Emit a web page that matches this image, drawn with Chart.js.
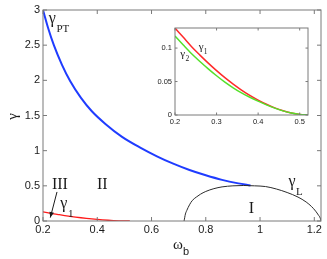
<!DOCTYPE html>
<html lang="en">
<head>
<meta charset="UTF-8">
<title>Phase diagram</title>
<script src="https://cdn.jsdelivr.net/npm/chart.js"></script>
<style>
    body { margin: 0; background: #fff; }
    #main { position: absolute; left: 0; top: 0; width: 327px; height: 259px; }
    #inset { position: absolute; left: 140px; top: 20px; width: 175px; height: 112px; }
</style>
</head>
<body>
<div id="main"><canvas id="mainChart"></canvas></div>
<div id="inset"><canvas id="insetChart"></canvas></div>
<script>
// gamma_PT boundary (blue)
const omegaPT = [0.2, 0.22, 0.24, 0.27, 0.3, 0.34, 0.38, 0.43, 0.49, 0.56, 0.62, 0.68, 0.74, 0.8, 0.86, 0.92, 0.965];
const gammaPT = [3.0, 2.73, 2.5, 2.22, 1.99, 1.75, 1.56, 1.38, 1.2, 1.04, 0.92, 0.815, 0.725, 0.65, 0.585, 0.535, 0.505];

// gamma_L arc (black)
const omegaL = [0.72, 0.725, 0.73, 0.74, 0.75, 0.765, 0.78, 0.8, 0.83, 0.86, 0.9, 0.94, 0.98, 1.02, 1.06, 1.1, 1.14, 1.17, 1.19, 1.205, 1.215, 1.222, 1.2245];
const gammaL = [0, 0.1, 0.15, 0.23, 0.29, 0.34, 0.38, 0.42, 0.46, 0.485, 0.5, 0.505, 0.5, 0.49, 0.455, 0.405, 0.34, 0.27, 0.205, 0.14, 0.085, 0.04, 0];

// gamma_1 (red) and gamma_2 (green)
const omega12 = [0.2, 0.22, 0.24, 0.26, 0.28, 0.3, 0.32, 0.34, 0.36, 0.38, 0.4, 0.42, 0.44, 0.46, 0.48, 0.5, 0.52];
const gamma1 = [0.13, 0.116, 0.102, 0.0895, 0.0775, 0.0663, 0.0558, 0.0462, 0.0373, 0.0293, 0.0222, 0.016, 0.0107, 0.0064, 0.0031, 0.0009, 0];
const gamma2 = [0.118, 0.1045, 0.0915, 0.08, 0.069, 0.0587, 0.0492, 0.0407, 0.033, 0.0265, 0.0207, 0.0152, 0.0103, 0.0062, 0.003, 0.0009, 0];

const xTicksMain = [0.2, 0.4, 0.6, 0.8, 1, 1.2];
const yTicksMain = [0, 0.5, 1, 1.5, 2, 2.5, 3];
const xTicksInset = [0.2, 0.3, 0.4, 0.5];
const yTicksInset = [0, 0.05, 0.1];

const pts = (xs, ys) => xs.map((x, i) => ({ x: x, y: ys[i] }));

// text labels, placed in data coordinates (left edge, baseline)
const mainLabels = [
    { t: 'γ', s: 'PT', x: 0.2215, y: 2.81 },
    { t: 'III', x: 0.233, y: 0.461 },
    { t: 'II', x: 0.399, y: 0.461 },
    { t: 'γ', s: '1', x: 0.2638, y: 0.181 },
    { t: 'γ', s: 'L', x: 1.105, y: 0.494 },
    { t: 'I', x: 0.958, y: 0.114 }
];
const insetLabels = [
    { t: 'γ', s: '1', x: 0.257, y: 0.097 },
    { t: 'γ', s: '2', x: 0.2128, y: 0.0865 }
];

const frame = {
    id: 'frame',
    beforeDraw(chart, args, opts) {
        if (!opts.fill) return;
        const a = chart.chartArea;
        chart.ctx.save();
        chart.ctx.fillStyle = opts.fill;
        chart.ctx.fillRect(a.left, a.top, a.right - a.left, a.bottom - a.top);
        chart.ctx.restore();
    },
    afterDatasetsDraw(chart, args, opts) {
        const { ctx, chartArea: a, scales } = chart;
        const L = opts.tick;
        ctx.save();
        ctx.strokeStyle = '#7a7a7a';
        ctx.lineWidth = 1;
        ctx.strokeRect(a.left, a.top, a.right - a.left, a.bottom - a.top);
        ctx.beginPath();
        scales.x.ticks.forEach(t => {
            const p = scales.x.getPixelForValue(t.value);
            ctx.moveTo(p, a.bottom); ctx.lineTo(p, a.bottom - L);
            ctx.moveTo(p, a.top); ctx.lineTo(p, a.top + L);
        });
        scales.y.ticks.forEach(t => {
            const p = scales.y.getPixelForValue(t.value);
            ctx.moveTo(a.left, p); ctx.lineTo(a.left + L, p);
            ctx.moveTo(a.right, p); ctx.lineTo(a.right - L, p);
        });
        ctx.stroke();
        ctx.restore();
    }
};

const labels = {
    id: 'labels',
    afterDraw(chart, args, opts) {
        const { ctx, scales } = chart;
        ctx.save();
        ctx.fillStyle = '#1a1a1a';
        ctx.textBaseline = 'alphabetic';
        ctx.textAlign = 'left';
        opts.items.forEach(l => {
            const px = scales.x.getPixelForValue(l.x);
            const py = scales.y.getPixelForValue(l.y);
            ctx.font = opts.font;
            ctx.fillText(l.t, px, py);
            if (l.s) {
                const w = ctx.measureText(l.t).width;
                ctx.font = opts.subFont;
                ctx.fillText(l.s, px + w + opts.subDx, py + opts.subDy);
            }
        });
        if (opts.axes) {
            const a = chart.chartArea;
            // x title: omega_b
            const cx = (a.left + a.right) / 2;
            ctx.font = '15px "Liberation Serif"';
            ctx.fillText('ω', cx - 9, a.bottom + 28);
            ctx.font = '11px "Liberation Sans"';
            ctx.fillText('b', cx + 1, a.bottom + 34);
            // y title: gamma, rotated
            ctx.save();
            ctx.translate(17, (a.top + a.bottom) / 2 + 1);
            ctx.rotate(-Math.PI / 2);
            ctx.textAlign = 'center';
            ctx.font = '15px "Liberation Serif"';
            ctx.fillText('γ', 0, 0);
            ctx.restore();
            // arrow from III down to gamma_1
            const x0 = scales.x.getPixelForValue(0.2516), y0 = scales.y.getPixelForValue(0.413);
            const x1 = scales.x.getPixelForValue(0.2269), y1 = scales.y.getPixelForValue(0.048);
            ctx.strokeStyle = '#1a1a1a';
            ctx.lineWidth = 1;
            ctx.beginPath();
            ctx.moveTo(x0, y0); ctx.lineTo(x1, y1);
            ctx.stroke();
            const ang = Math.atan2(y1 - y0, x1 - x0);
            ctx.beginPath();
            ctx.moveTo(x1, y1);
            ctx.lineTo(x1 - 6 * Math.cos(ang - 0.4), y1 - 6 * Math.sin(ang - 0.4));
            ctx.lineTo(x1 - 6 * Math.cos(ang + 0.4), y1 - 6 * Math.sin(ang + 0.4));
            ctx.closePath();
            ctx.fill();
        }
        ctx.restore();
    }
};

function axis(min, max, ticks, font, pad, size, isX) {
    return {
        type: 'linear',
        min: min,
        max: max,
        afterBuildTicks: s => { s.ticks = ticks.map(v => ({ value: v })); },
        afterFit: s => { if (isX) s.height = size; else s.width = size; },
        grid: { display: false, drawTicks: false },
        border: { display: false },
        ticks: {
            autoSkip: false,
            maxRotation: 0,
            padding: pad,
            color: '#1a1a1a',
            font: font,
            callback: v => String(v)
        }
    };
}

new Chart(document.getElementById('mainChart'), {
    type: 'line',
    data: {
        datasets: [
            { data: pts(omegaL, gammaL), borderColor: '#2b2b2b', borderWidth: 1, cubicInterpolationMode: 'monotone' },
            { data: pts(omegaPT, gammaPT), borderColor: '#1f3cff', borderWidth: 2, cubicInterpolationMode: 'monotone' },
            { data: pts(omega12, gamma1), borderColor: '#ff1a1a', borderWidth: 1.3, cubicInterpolationMode: 'monotone' }
        ]
    },
    options: {
        responsive: true,
        maintainAspectRatio: false,
        animation: false,
        events: [],
        elements: { point: { radius: 0 } },
        layout: { padding: { top: 10, right: 6, left: 0, bottom: 0 } },
        scales: {
            x: axis(0.2, 1.2247, xTicksMain, { family: 'Liberation Sans', size: 11 }, 2, 38, true),
            y: axis(0, 3, yTicksMain, { family: 'Liberation Sans', size: 11 }, 3, 43, false)
        },
        plugins: {
            legend: { display: false },
            tooltip: { enabled: false },
            frame: { tick: 4 },
            labels: { items: mainLabels, font: '16px "Liberation Serif"', subFont: '11px "Liberation Serif"', subDx: 0.5, subDy: 9, axes: true }
        }
    },
    plugins: [frame, labels]
});

new Chart(document.getElementById('insetChart'), {
    type: 'line',
    data: {
        datasets: [
            { data: pts(omega12, gamma2), borderColor: '#55e02a', borderWidth: 1.5, cubicInterpolationMode: 'monotone' },
            { data: pts(omega12, gamma1), borderColor: '#ff2a2a', borderWidth: 1.5, cubicInterpolationMode: 'monotone' }
        ]
    },
    options: {
        responsive: true,
        maintainAspectRatio: false,
        animation: false,
        events: [],
        elements: { point: { radius: 0 } },
        layout: { padding: { top: 8, right: 7, left: 0, bottom: 0 } },
        scales: {
            x: axis(0.2, 0.52, xTicksInset, { family: 'Liberation Sans', size: 7.5 }, 2, 17, true),
            y: axis(0, 0.13, yTicksInset, { family: 'Liberation Sans', size: 7.5 }, 3, 35, false)
        },
        plugins: {
            legend: { display: false },
            tooltip: { enabled: false },
            frame: { tick: 2.5, fill: '#ffffff' },
            labels: { items: insetLabels, font: '11px "Liberation Serif"', subFont: '7.5px "Liberation Serif"', subDx: 0.3, subDy: 4 }
        }
    },
    plugins: [frame, labels]
});
</script>
</body>
</html>
